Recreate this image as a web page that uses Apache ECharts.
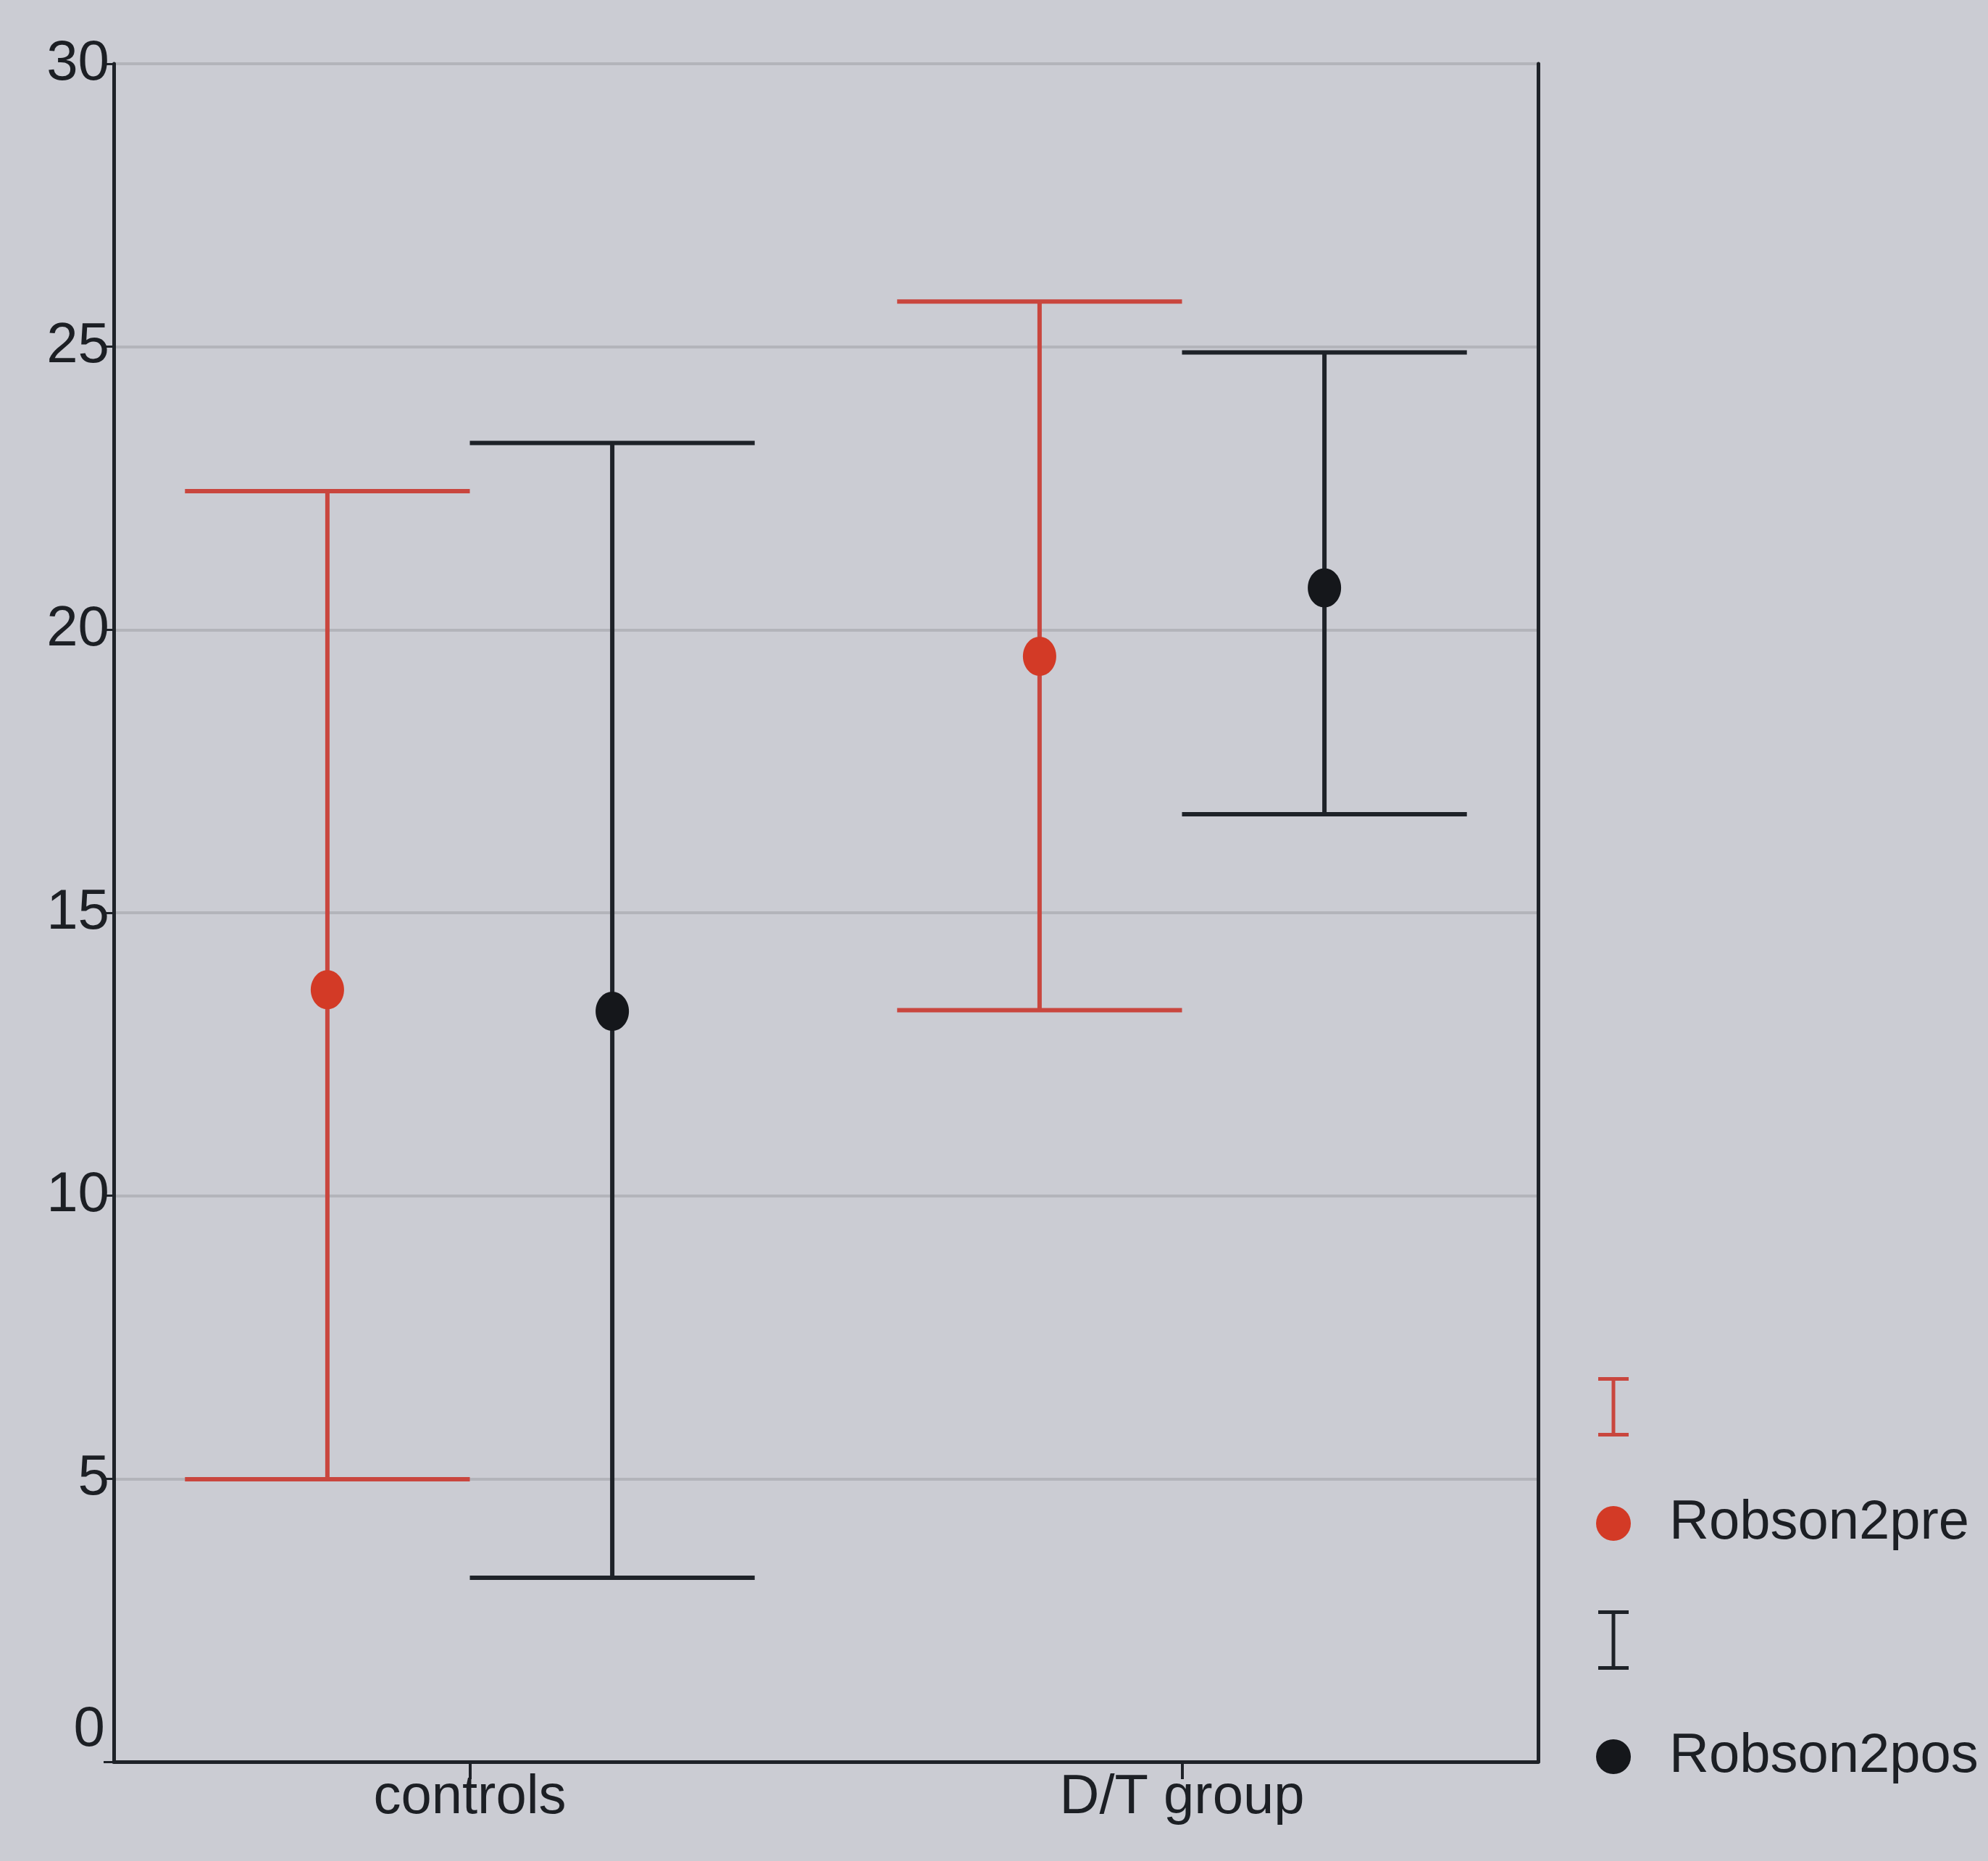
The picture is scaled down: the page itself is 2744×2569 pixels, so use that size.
<!DOCTYPE html>
<html>
<head>
<meta charset="utf-8">
<title>Robson2 pre / post</title>
<script src="https://cdn.jsdelivr.net/npm/echarts@6/dist/echarts.min.js"></script>
<style>
  html, body { margin: 0; padding: 0; background: #cbccd3; }
  #chart { width: 2744px; height: 2569px; }
</style>
</head>
<body>
<div id="chart"></div>
<script>
// groups on the x axis
const categories = ['controls', 'D/T group'];
const yTicks = [0, 5, 10, 15, 20, 25, 30];

// Robson2pre: mean and interval ends
const preMean = [13.64, 19.53];
const preLow = [4.99, 13.28];
const preHigh = [22.45, 25.8];

// Robson2pos: mean and interval ends
const postMean = [13.26, 20.74];
const postLow = [3.25, 16.74];
const postHigh = [23.3, 24.9];

const RED_LINE = '#c9463e';
const RED_DOT = '#d33a26';
const DARK = '#1e2228';
const TEXT = '#1c1f24';
const FONT = 'Liberation Sans, Arial, sans-serif';

// I shaped legend icon
const barIcon = 'path://M0,0H42V5H23.5V77H42V82H0V77H18.5V5H0Z';

// offsets in units of a category band
const PRE_OFFSET = -0.2;
const POST_OFFSET = 0.2;
const CAP_HALF = 0.2;

function errorBar(offset, color) {
  return function (params, api) {
    const i = api.value(0);
    const lo = api.coord([i, api.value(1)]);
    const hi = api.coord([i, api.value(2)]);
    const band = api.size([1, 0])[0];
    const x = lo[0] + offset * band;
    const half = CAP_HALF * band;
    const style = { stroke: color, lineWidth: 6 };
    return {
      type: 'group',
      children: [
        { type: 'line', shape: { x1: x, y1: lo[1], x2: x, y2: hi[1] }, style: style },
        { type: 'line', shape: { x1: x - half, y1: hi[1], x2: x + half, y2: hi[1] }, style: style },
        { type: 'line', shape: { x1: x - half, y1: lo[1], x2: x + half, y2: lo[1] }, style: style }
      ]
    };
  };
}

function meanDot(offset, color) {
  return function (params, api) {
    const i = api.value(0);
    const p = api.coord([i, api.value(1)]);
    const band = api.size([1, 0])[0];
    return {
      type: 'ellipse',
      shape: { cx: p[0] + offset * band, cy: p[1], rx: 23, ry: 27 },
      style: { fill: color }
    };
  };
}

const chart = echarts.init(document.getElementById('chart'), null, { renderer: 'canvas' });

const option = {
  backgroundColor: '#cbccd3',
  animation: false,
  grid: { left: 157, right: 621, top: 88, bottom: 137 },
  legend: {
    orient: 'vertical',
    left: 2198,
    top: 1896,
    itemWidth: 48,
    itemHeight: 82,
    itemGap: 82,
    selectedMode: false,
    textStyle: { fontFamily: FONT, fontSize: 76, color: TEXT, padding: [0, 0, 0, 48] },
    formatter: function (name) { return name.indexOf('bar') === 0 ? '' : name; },
    data: [
      { name: 'bar pre', icon: barIcon },
      { name: 'Robson2pre', icon: 'circle' },
      { name: 'bar pos', icon: barIcon },
      { name: 'Robson2pos', icon: 'circle' }
    ]
  },
  xAxis: {
    type: 'category',
    data: categories,
    axisLine: { lineStyle: { color: DARK, width: 5 } },
    axisTick: { show: true, alignWithLabel: true, length: 24, lineStyle: { color: DARK, width: 4 } },
    axisLabel: { fontFamily: FONT, fontSize: 76, color: TEXT, margin: 12 },
    splitLine: { show: false }
  },
  yAxis: [{
    type: 'value',
    min: yTicks[0],
    max: yTicks[yTicks.length - 1],
    interval: 5,
    axisLine: { show: true, lineStyle: { color: DARK, width: 5 } },
    axisTick: { show: true, length: 14, lineStyle: { color: DARK, width: 3 } },
    axisLabel: {
      fontFamily: FONT, fontSize: 78, color: TEXT, margin: 6,
      formatter: function (v) { return v === 0 ? '{z|0}' : String(v); },
      rich: { z: { fontFamily: FONT, fontSize: 78, color: TEXT, padding: [0, 6, 88, 0] } }
    },
    splitLine: { lineStyle: { color: '#b3b4ba', width: 4 } }
  }, {
    type: 'value',
    position: 'right',
    min: yTicks[0],
    max: yTicks[yTicks.length - 1],
    interval: 5,
    axisLine: { show: true, lineStyle: { color: DARK, width: 5 } },
    axisTick: { show: false },
    axisLabel: { show: false },
    splitLine: { show: false }
  }],
  series: [
    {
      name: 'bar pre', type: 'custom', itemStyle: { color: RED_LINE },
      renderItem: errorBar(PRE_OFFSET, RED_LINE),
      data: categories.map((c, i) => [i, preLow[i], preHigh[i]])
    },
    {
      name: 'Robson2pre', type: 'custom', itemStyle: { color: RED_DOT }, z: 3,
      renderItem: meanDot(PRE_OFFSET, RED_DOT),
      data: categories.map((c, i) => [i, preMean[i]])
    },
    {
      name: 'bar pos', type: 'custom', itemStyle: { color: DARK },
      renderItem: errorBar(POST_OFFSET, DARK),
      data: categories.map((c, i) => [i, postLow[i], postHigh[i]])
    },
    {
      name: 'Robson2pos', type: 'custom', itemStyle: { color: '#15171b' }, z: 3,
      renderItem: meanDot(POST_OFFSET, '#15171b'),
      data: categories.map((c, i) => [i, postMean[i]])
    }
  ]
};

chart.setOption(option);
</script>
</body>
</html>
